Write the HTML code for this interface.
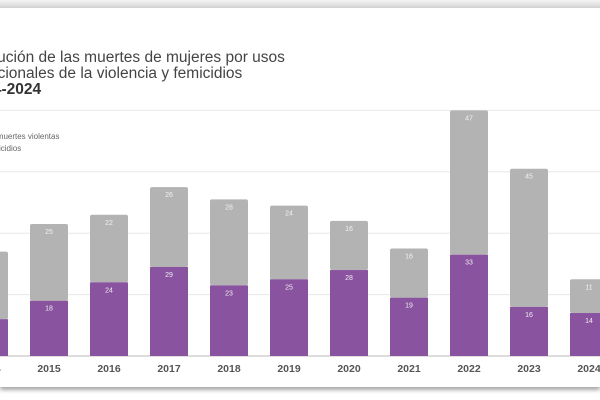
<!DOCTYPE html>
<html><head><meta charset="utf-8">
<style>
html,body{margin:0;padding:0;width:600px;height:400px;overflow:hidden;background:#fff;font-family:"Liberation Sans",sans-serif;}
#frame{position:absolute;left:0;top:0;width:600px;height:400px;}
#topshade{position:absolute;left:0;top:0;width:600px;height:8px;background:linear-gradient(#f4f4f4,#d4d4d4);}
#card{position:absolute;left:0;top:8px;width:600px;height:379px;background:#fff;box-shadow:0 3px 4px rgba(0,0,0,0.35);overflow:hidden;}
.title{position:absolute;left:-33px;font-size:15.5px;color:#444;white-space:nowrap;}
.legend{position:absolute;left:-30px;font-size:8px;color:#666;white-space:nowrap;}
</style></head>
<body>
<div id="frame">
<div id="topshade"></div>
<div id="card">
<div class="title" style="top:41px">Evolución de las muertes de mujeres por usos</div>
<div class="title" style="top:57px;left:-36px">intencionales de la violencia y femicidios</div>
<div class="title" style="top:73px;left:-33px;font-weight:bold;color:#333">2014-2024</div>
<div class="legend" style="top:124px;left:-25px">Otras muertes violentas</div>
<div class="legend" style="top:136px;left:-17px">Femicidios</div>
<svg id="chart" width="600" height="379" style="position:absolute;left:0;top:0"></svg>
</div>
</div>
<script>
const years=["2014","2015","2016","2017","2018","2019","2020","2021","2022","2023","2024"];
const femicidios=[12,18,24,29,23,25,28,19,33,16,14];
const otras=[22,25,22,26,28,24,16,16,47,45,11];
const gridTicks=[0,20,40,60,80];

const svg=document.getElementById('chart');
const NS='http://www.w3.org/2000/svg';
const baseY=348, pxPerUnit=3.07;
const y=v=>baseY-v*pxPerUnit;
const x0=-11, step=60, bw=38;
const xc=i=>x0+i*step;
function mk(tag,attrs){const e=document.createElementNS(NS,tag);for(const k in attrs)e.setAttribute(k,attrs[k]);svg.appendChild(e);return e;}
gridTicks.forEach(t=>{
  const l=mk('line',{x1:0,x2:600,y1:y(t),y2:y(t),stroke:t===0?'#bbb':'#e8e8e8','stroke-width':1});
  
  
});
years.forEach((yr,i)=>{
  const cx=xc(i);
  const f=femicidios[i], o=otras[i];
  const g=mk('rect',{x:cx-bw/2,y:y(f+o),width:bw,height:o*pxPerUnit,fill:'#b3b3b3',rx:2});
  
  
  const p=mk('rect',{x:cx-bw/2,y:y(f),width:bw,height:f*pxPerUnit,fill:'#8a53a0'});
  
  
  const t1=mk('text',{x:cx,y:y(f+o)+10,'font-size':7,fill:'#f2f2f2','text-anchor':'middle','font-family':'Liberation Sans'});
  t1.textContent=o;
  
  
  const t2=mk('text',{x:cx,y:y(f)+10,'font-size':7,fill:'#eee','text-anchor':'middle','font-family':'Liberation Sans'});
  t2.textContent=f;
  
  
  const yl=mk('text',{x:cx,y:baseY+16,'font-size':10.5,'font-weight':'bold',fill:'#555','text-anchor':'middle','font-family':'Liberation Sans'});
  yl.textContent=yr;
  
  
});
</script>
</body></html>
